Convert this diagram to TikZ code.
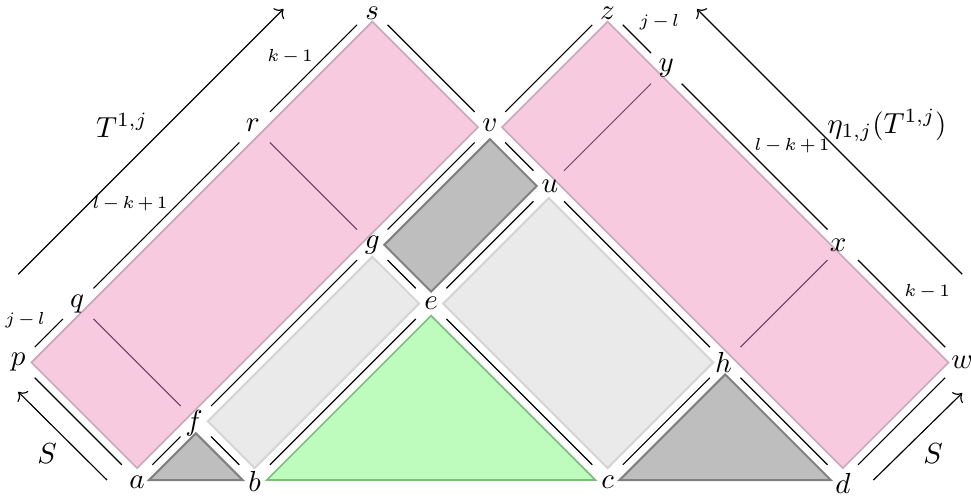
\documentclass[tikz,border=0pt]{standalone}
\usetikzlibrary{arrows.meta}
\definecolor{pinkfill}{RGB}{247,202,223}
\definecolor{pinkdraw}{RGB}{200,168,185}
\definecolor{dgfill}{RGB}{190,190,190}
\definecolor{dgdraw}{RGB}{128,128,128}
\definecolor{lgfill}{RGB}{234,234,234}
\definecolor{lgdraw}{RGB}{212,212,212}
\definecolor{grfill}{RGB}{190,252,190}
\definecolor{grdraw}{RGB}{125,190,125}
\definecolor{innercol}{RGB}{110,60,95}
\newcommand{\smallmath}[1]{{\fontsize{6}{7}\selectfont$\medmuskip=2.5mu\relax #1$}}
\begin{document}
\begin{tikzpicture}[x=20.286pt,y=20.286pt,
  seg/.style={black,line width=0.4pt,shorten <=7.46pt,shorten >=7.46pt},
  innerline/.style={innercol,line width=0.35pt,shorten <=7.46pt,shorten >=7.46pt},
  pinkreg/.style={fill=pinkfill,draw=pinkdraw,line width=0.55pt},
  darkreg/.style={fill=dgfill,draw=dgdraw,line width=0.7pt},
  lightreg/.style={fill=lgfill,draw=lgdraw,line width=0.7pt},
  greenreg/.style={fill=grfill,draw=grdraw,line width=0.6pt},
  lab/.style={inner sep=0pt},
  smalllab/.style={inner sep=0pt},
  arr/.style={->,black,line width=0.4pt}]
\useasboundingbox (-2.33,-0.289) rectangle (14.18,8.163);
\def\dd{0.204}
% lattice points
\coordinate (pa) at (0,0);
\coordinate (pb) at (2,0);
\coordinate (pc) at (8,0);
\coordinate (pd) at (12,0);
\coordinate (pe) at (5,3);
\coordinate (pf) at (1,1);
\coordinate (pg) at (4,4);
\coordinate (ph) at (10,2);
\coordinate (pp) at (-2,2);
\coordinate (pq) at (-1,3);
\coordinate (pr) at (2,6);
\coordinate (ps) at (4,8);
\coordinate (pv) at (6,6);
\coordinate (pu) at (7,5);
\coordinate (pz) at (8,8);
\coordinate (py) at (9,7);
\coordinate (px) at (12,4);
\coordinate (pw) at (14,2);
% regions
\draw[pinkreg] (0,\dd) -- (-2+\dd,2) -- (4,8-\dd) -- (6-\dd,6) -- cycle;
\draw[pinkreg] (6+\dd,6) -- (8,8-\dd) -- (14-\dd,2) -- (12,\dd) -- cycle;
\draw[darkreg] (4+\dd,4) -- (6,6-\dd) -- (7-\dd,5) -- (5,3+\dd) -- cycle;
\draw[lightreg] (2,\dd) -- (1+\dd,1) -- (4,4-\dd) -- (5-\dd,3) -- cycle;
\draw[lightreg] (8,\dd) -- (5+\dd,3) -- (7,5-\dd) -- (10-\dd,2) -- cycle;
\draw[darkreg] (\dd,0) -- (1,1-\dd) -- (2-\dd,0) -- cycle;
\draw[greenreg] (2+\dd,0) -- (5,3-\dd) -- (8-\dd,0) -- cycle;
\draw[darkreg] (8+\dd,0) -- (10,2-\dd) -- (12-\dd,0) -- cycle;
% inner lines
\draw[innerline] (pq) -- (pf);
\draw[innerline] (pr) -- (pg);
\draw[innerline] (py) -- (pu);
\draw[innerline] (px) -- (ph);
% lattice segments
\draw[seg] (pp) -- (pq);
\draw[seg] (pq) -- (pr);
\draw[seg] (pr) -- (ps);
\draw[seg] (pa) -- (pp);
\draw[seg] (ps) -- (pv);
\draw[seg] (pv) -- (pz);
\draw[seg] (pz) -- (py);
\draw[seg] (py) -- (px);
\draw[seg] (px) -- (pw);
\draw[seg] (pd) -- (pw);
\draw[seg] (pa) -- (pf);
\draw[seg] (pf) -- (pb);
\draw[seg] (pf) -- (pg);
\draw[seg] (pg) -- (pv);
\draw[seg] (pb) -- (pe);
\draw[seg] (pe) -- (pc);
\draw[seg] (pg) -- (pe);
\draw[seg] (pe) -- (pu);
\draw[seg] (pv) -- (pu);
\draw[seg] (pu) -- (ph);
\draw[seg] (pc) -- (ph);
\draw[seg] (ph) -- (pd);
% arrows
\coordinate (ta) at (-2.02,3.5);
\coordinate (tb) at (2.49,8.01);
\coordinate (ea) at (14.03,3.5);
\coordinate (eb) at (9.52,8.01);
\coordinate (sla) at (-0.51,0);
\coordinate (slb) at (-2.02,1.50);
\coordinate (sra) at (12.52,0);
\coordinate (srb) at (14.03,1.48);
\draw[arr] (ta) -- (tb);
\draw[arr] (ea) -- (eb);
\draw[arr] (sla) -- (slb);
\draw[arr] (sra) -- (srb);
% point labels
\node[lab] (la) at (0,-0.03) {$a$};
\node[lab] (lb) at (2,-0.03) {$b$};
\node[lab] (lc) at (8,-0.03) {$c$};
\node[lab] (ld) at (12,-0.05) {$d$};
\node[lab] (le) at (pe) {$e$};
\node[lab] (lf) at (0.97,0.97) {$f$};
\node[lab] (lg) at (pg) {$g$};
\node[lab] (lh) at (9.97,2) {$h$};
\node[lab] (lp) at (-2.02,2) {$p$};
\node[lab] (lq) at (-1.02,3) {$q$};
\node[lab] (lr) at (1.97,6.03) {$r$};
\node[lab] (ls) at (4,7.93) {$s$};
\node[lab] (lv) at (6,6.03) {$v$};
\node[lab] (lu) at (7.02,5) {$u$};
\node[lab] (lz) at (8,7.93) {$z$};
\node[lab] (ly) at (9,7) {$y$};
\node[lab] (lx) at (11.92,4) {$x$};
\node[lab] (lw) at (14.03,2) {$w$};
% edge labels
\node[smalllab] (jl1) at (-1.905,2.721) {\smallmath{j-l}};
\node[smalllab] (lk1) at (-0.119,4.694) {\smallmath{l-k+1}};
\node[smalllab] (k11) at (2.602,7.194) {\smallmath{k-1}};
\node[smalllab] (jl2) at (8.878,7.789) {\smallmath{j-l}};
\node[smalllab] (lk2) at (11.139,5.680) {\smallmath{l-k+1}};
\node[smalllab] (k12) at (13.435,3.197) {\smallmath{k-1}};
\node[lab] (tl) at (-0.255,6.03) {$T^{1,j}$};
\node[lab] (el) at (12.75,6.03) {$\eta_{1,j}(T^{1,j})$};
\node[lab] (sl) at (-1.531,0.459) {$S$};
\node[lab] (sr) at (13.537,0.459) {$S$};
\end{tikzpicture}
\end{document}
